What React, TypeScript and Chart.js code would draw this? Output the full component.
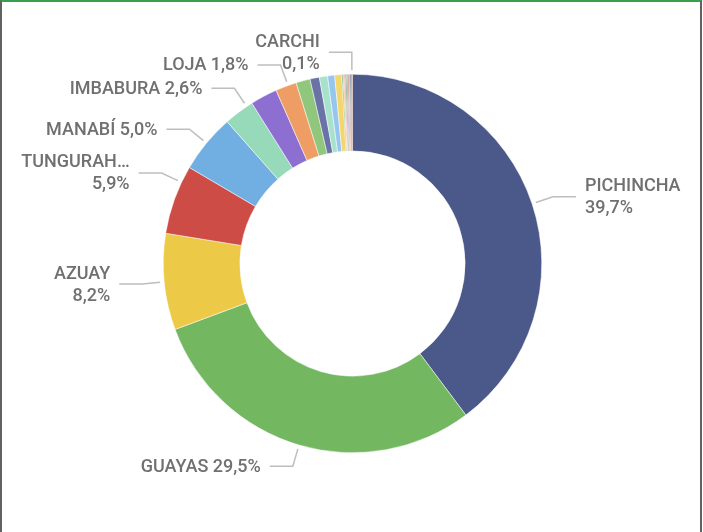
import React, { useEffect, useRef } from "react";
import { Chart, registerables } from "chart.js";

Chart.register(...registerables);

const categories = [
  "PICHINCHA", "GUAYAS", "AZUAY", "TUNGURAHUA", "MANABÍ", "IMBABURA", "EL ORO", "LOJA",
  "SANTO DOMINGO", "COTOPAXI", "CHIMBORAZO", "ESMERALDAS", "LOS RÍOS",
  "SANTA ELENA", "CAÑAR", "BOLÍVAR", "ZAMORA CHINCHIPE", "MORONA SANTIAGO", "NAPO", "PASTAZA", "ORELLANA",
  "CARCHI",
];
const values = [
  39.7, 29.5, 8.2, 5.9, 5.0, 2.6, 2.3, 1.8,
  1.2, 0.8, 0.7, 0.6, 0.6,
  0.1, 0.1, 0.1, 0.1, 0.1, 0.1, 0.1, 0.1,
  0.1,
];
const colors = [
  "#4A588A", "#73B761", "#EDC948", "#CD4C46", "#71AFE2", "#96DAB9", "#8D6FD1", "#EE9E64",
  "#91C77D", "#6A73A6", "#A9E2CC", "#96C5EE", "#F3D66C",
  "#5C9E4E", "#F2A07B", "#E0787A", "#3F7F47", "#7A6FA8", "#A0653A", "#E38A3E", "#33406E",
  "#9C4A3A",
];

// Which slices carry an outside label, where on the slice the leader attaches, and whether the label wraps
const labeledSlices = [0, 1, 2, 3, 4, 5, 7, 21];
const labelAnchor = [0.5, 0.5, 0.5, 0.76, 0.5, 0.8, 0.6, 0.5];
const labelWrapped = [true, false, true, true, false, false, false, true];

const fmt = (v: number) => v.toFixed(1).replace(".", ",") + "%";

const truncate = (ctx: CanvasRenderingContext2D, s: string, max: number) => {
  if (ctx.measureText(s).width <= max) return s;
  let t = s;
  while (t.length > 1 && ctx.measureText(t + "…").width > max) t = t.slice(0, -1);
  return t + "…";
};

const labelPlugin = {
  id: "outLabels",
  afterDatasetsDraw(chart: any) {
    const ctx: CanvasRenderingContext2D = chart.ctx;
    const meta = chart.getDatasetMeta(0);
    ctx.save();
    ctx.font = "500 18px Roboto";
    ctx.textBaseline = "middle";
    labeledSlices.forEach((idx, k) => {
      const arc = meta.data[idx];
      const { x, y, startAngle, endAngle, outerRadius } = arc.getProps(
        ["x", "y", "startAngle", "endAngle", "outerRadius"],
        true
      );
      const a = startAngle + (endAngle - startAngle) * labelAnchor[k];
      const r0 = outerRadius + 4;
      const r1 = outerRadius + 22;
      const sx = x + Math.cos(a) * r0;
      const sy = y + Math.sin(a) * r0;
      const ex = x + Math.cos(a) * r1;
      const ey = y + Math.sin(a) * r1;
      const dir = Math.cos(a) >= 0 ? 1 : -1;
      const hx = ex + dir * 23;
      ctx.strokeStyle = "#BEBEBE";
      ctx.lineWidth = 1.5;
      ctx.beginPath();
      ctx.moveTo(sx, sy);
      ctx.lineTo(ex, ey);
      ctx.lineTo(hx, ey);
      ctx.stroke();

      const name = truncate(ctx, categories[idx], 112);
      const val = fmt(values[idx]);
      const lines = labelWrapped[k] ? [name, val] : [name + " " + val];
      const lh = 22;
      const tx = hx + dir * 9;
      ctx.fillStyle = "#707070";
      ctx.textAlign = dir > 0 ? "left" : "right";
      lines.forEach((ln, i) => {
        ctx.fillText(ln, tx, ey - ((lines.length - 1) * lh) / 2 + i * lh + 1);
      });
    });
    ctx.restore();
  },
};

export default function App() {
  const ref = useRef<HTMLCanvasElement>(null);
  useEffect(() => {
    if (!ref.current) return;
    const chart = new Chart(ref.current, {
      type: "doughnut",
      data: {
        labels: categories,
        datasets: [
          {
            data: values,
            backgroundColor: colors,
            borderColor: "#ffffff",
            borderWidth: 0.5,
          },
        ],
      },
      options: {
        responsive: false,
        animation: false,
        cutout: "59.5%",
        layout: { padding: { left: 163, right: 161, top: 74, bottom: 79 } },
        plugins: {
          legend: { display: false },
          tooltip: { enabled: false },
        },
      },
      plugins: [labelPlugin],
    });
    return () => chart.destroy();
  }, []);

  return (
    <div style={{ position: "fixed", left: 0, top: 0, width: 703, height: 532, background: "#fff" }}>
      <canvas ref={ref} width={703} height={532} style={{ position: "absolute", left: 0, top: 0, width: 703, height: 532 }} />
      <div
        style={{
          position: "absolute",
          left: 0,
          top: 0,
          width: 702,
          height: 532,
          boxSizing: "border-box",
          borderTop: "2px solid #3A9F4C",
          borderLeft: "2px solid #616161",
          borderRight: "2px solid #616161",
          pointerEvents: "none",
        }}
      />
    </div>
  );
}
